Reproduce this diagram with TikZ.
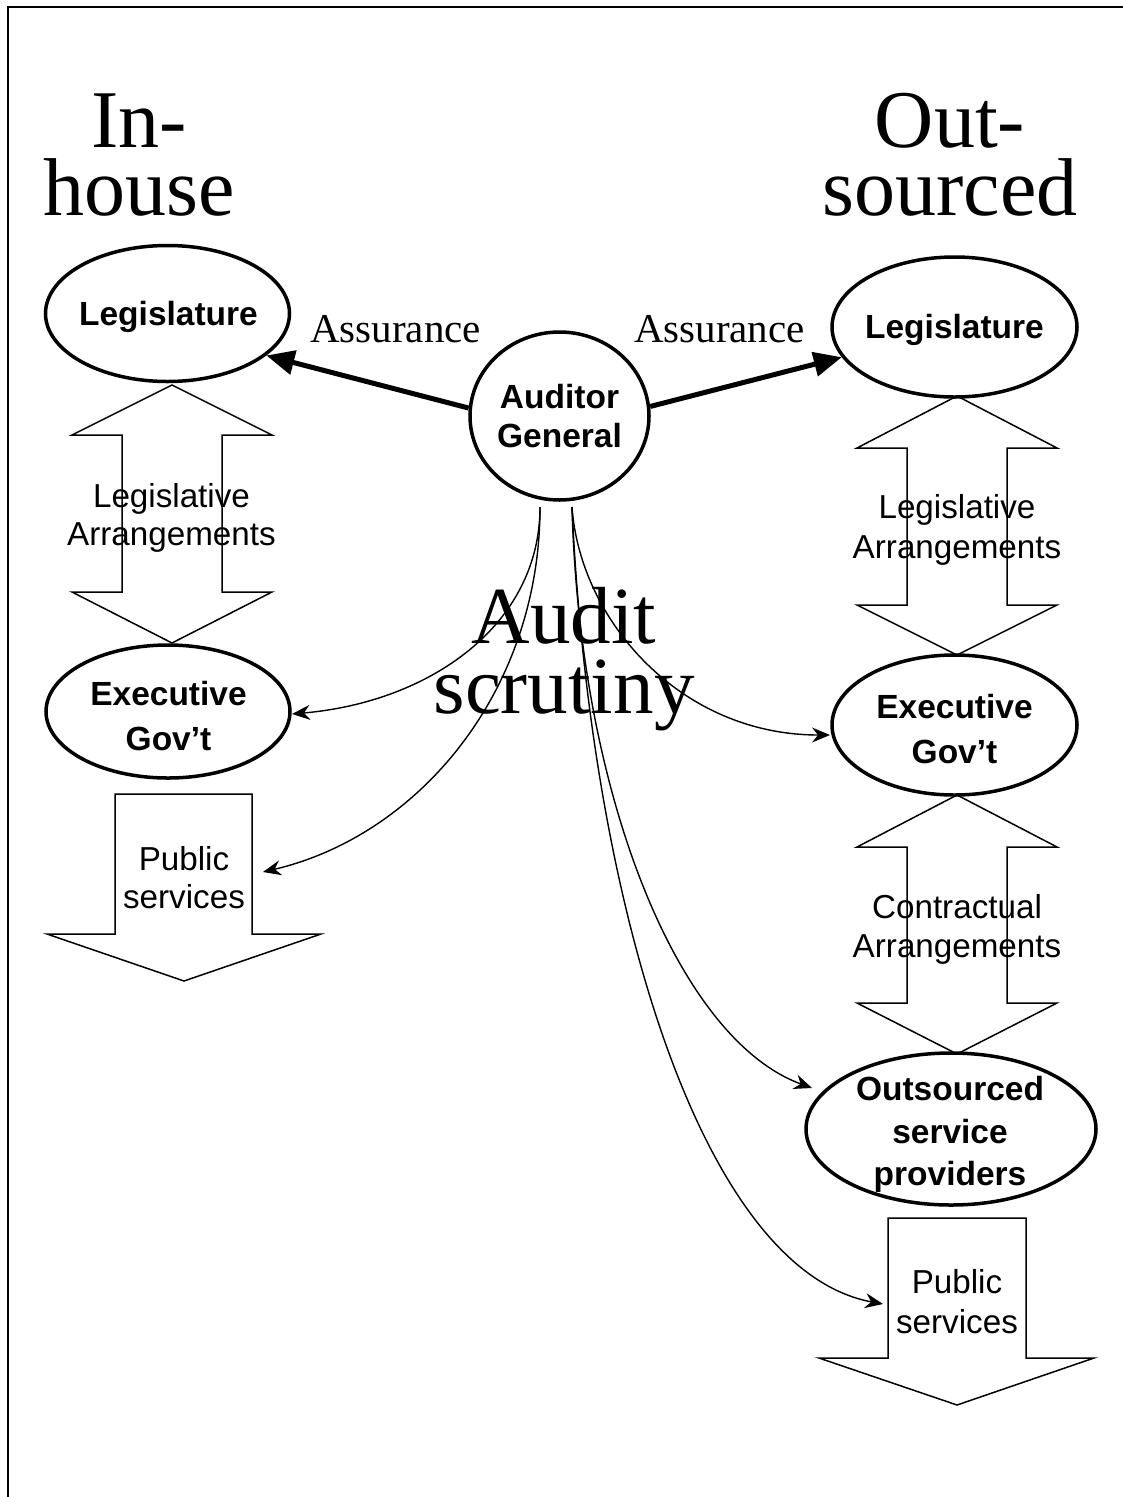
\documentclass[tikz,border=0pt]{standalone}
\usepackage{fontspec}
\setmainfont{Liberation Serif}
\setsansfont{Liberation Sans}
\usetikzlibrary{shapes.geometric,arrows.meta}
\begin{document}
\begin{tikzpicture}[x=1pt,y=1pt,
  ell/.style={draw, line width=3.5pt, ellipse, inner sep=0pt},
  slbl/.style={font=\sffamily\fontsize{33.2}{38}\selectfont, anchor=base, inner sep=0pt},
  blbl/.style={font=\sffamily\bfseries\fontsize{33.5}{38}\selectfont, anchor=base, inner sep=0pt},
  bigserif/.style={font=\fontsize{82}{68}\selectfont, anchor=base, inner sep=0pt},
  midserif/.style={font=\fontsize{41}{48}\selectfont, anchor=base, inner sep=0pt},
  blockarrow/.style={draw, line width=1.5pt, line join=miter},
  assure/.style={line width=5pt, -{Triangle[length=28pt,width=24pt]}},
  scr/.style={line width=1.4pt, -{Stealth[length=18pt,width=15pt,inset=6pt]}}
]
\useasboundingbox (0,0) rectangle (1123,-1497);
% frame
\draw[line width=2.5pt] (8,-1497) -- (8,-7) -- (1123,-7);

% headings
\node[bigserif] (in1) at (139,-147) {In-};
\node[bigserif] (in2) at (139,-215) {house};
\node[bigserif] (out1) at (950,-147) {Out-};
\node[bigserif] (out2) at (950,-215) {sourced};

% ellipses
\node[ell, minimum width=244pt, minimum height=136pt] (legL) at (167.5,-313.5) {};
\node[ell, minimum width=245pt, minimum height=140pt] (legR) at (954.5,-327) {};
\node[ell, minimum width=179pt, minimum height=168pt] (aud) at (559.5,-416) {};
\node[ell, minimum width=244pt, minimum height=133pt] (exL) at (168,-711.5) {};
\node[ell, minimum width=245pt, minimum height=140pt] (exR) at (954.5,-725) {};
\node[ell, minimum width=290pt, minimum height=152pt] (outS) at (951,-1129) {};

% ellipse texts
\node[blbl] (tlegL) at (168.5,-325) {Legislature};
\node[blbl] (tlegR) at (954.5,-338) {Legislature};
\node[blbl] (taud1) at (559.5,-408) {Auditor};
\node[blbl] (taud2) at (559.5,-447) {General};
\node[blbl] (texL1) at (168.5,-705) {Executive};
\node[blbl] (texL2) at (168.5,-750) {Gov’t};
\node[blbl] (texR1) at (954.5,-718) {Executive};
\node[blbl] (texR2) at (954.5,-763) {Gov’t};
\node[blbl] (tout1) at (950,-1100) {Outsourced};
\node[blbl] (tout2) at (950,-1143) {service};
\node[blbl] (tout3) at (950,-1185) {providers};

% block double arrows
\draw[blockarrow] (172,-385) -- (272,-435) -- (222,-435) -- (222,-592) -- (272,-592) -- (172,-643)
  -- (72,-592) -- (122,-592) -- (122,-435) -- (72,-435) -- cycle;
\draw[blockarrow] (957,-396) -- (1057,-448) -- (1007,-448) -- (1007,-605) -- (1057,-605) -- (957,-655)
  -- (857,-605) -- (907,-605) -- (907,-448) -- (857,-448) -- cycle;
\draw[blockarrow] (957,-795) -- (1057,-847) -- (1007,-847) -- (1007,-1003) -- (1057,-1003) -- (957,-1054)
  -- (857,-1003) -- (907,-1003) -- (907,-847) -- (857,-847) -- cycle;
% public services arrows
\draw[blockarrow] (115,-794) -- (252,-794) -- (252,-934) -- (321,-934) -- (184,-981) -- (47,-934) -- (115,-934) -- cycle;
\draw[blockarrow] (888,-1218) -- (1026,-1218) -- (1026,-1358) -- (1094,-1358) -- (957,-1405) -- (819,-1358) -- (888,-1358) -- cycle;

\node[slbl] (la1) at (171.5,-507) {Legislative};
\node[slbl] (la2) at (171.5,-545) {Arrangements};
\node[slbl] (ra1) at (957,-518) {Legislative};
\node[slbl] (ra2) at (957,-558) {Arrangements};
\node[slbl] (ca1) at (957,-918) {Contractual};
\node[slbl] (ca2) at (957,-957) {Arrangements};
\node[slbl] (pl1) at (184,-870) {Public};
\node[slbl] (pl2) at (184,-908) {services};
\node[slbl] (pr1) at (957,-1293) {Public};
\node[slbl] (pr2) at (957,-1333) {services};

% assurance
\node[midserif, anchor=base west] (asL) at (310,-342) {Assurance};
\node[midserif, anchor=base east] (asR) at (805,-342) {Assurance};
\draw[assure] (aud.175) -- (legL.-23);
\draw[assure] (aud.6) -- (legR.-165);

% audit scrutiny
\node[font=\fontsize{81}{70}\selectfont, anchor=base, inner sep=0pt] (au1) at (564,-643) {Audit};
\node[font=\fontsize{81}{70}\selectfont, anchor=base, inner sep=0pt] (au2) at (564,-713) {scrutiny};

% scrutiny curves
\coordinate (s1) at (540,-507);
\coordinate (s2) at (572,-507);
\coordinate (e1) at (292,-714);
\coordinate (e2) at (263,-872);
\coordinate (e3) at (830,-735);
\coordinate (e4) at (812,-1088);
\coordinate (e5) at (883,-1304);
\draw[scr] (s1) .. controls (540,-625) and (430,-702) .. (e1);
\draw[scr] (s1) .. controls (540,-690) and (420,-835) .. (e2);
\draw[scr] (s2) .. controls (580,-620) and (680,-735) .. (e3);
\draw[scr] (s2) .. controls (580,-800) and (680,-1040) .. (e4);
\draw[scr] (s2) .. controls (590,-900) and (700,-1270) .. (e5);
\end{tikzpicture}
\end{document}
